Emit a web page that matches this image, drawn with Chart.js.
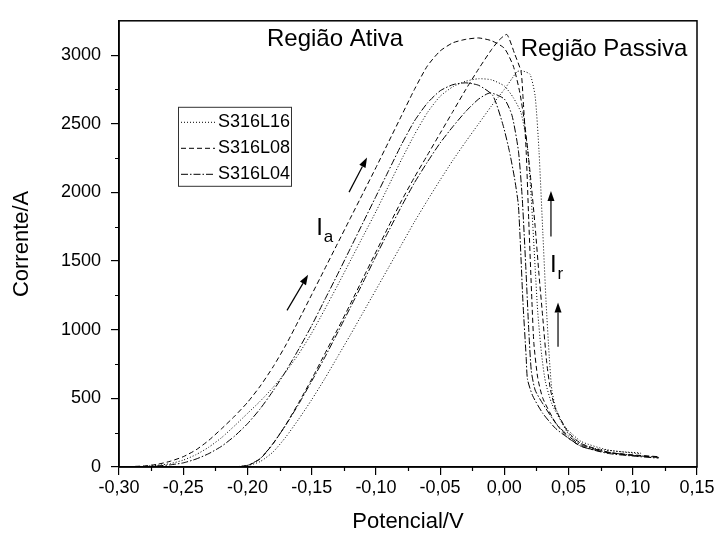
<!DOCTYPE html>
<html>
<head>
<meta charset="utf-8">
<script src="https://cdn.jsdelivr.net/npm/chart.js@4.4.1/dist/chart.umd.min.js"></script>
<style>
  html, body { margin: 0; padding: 0; background: #fff; }
</style>
</head>
<body>
<canvas id="chart" width="720" height="540"></canvas>
<script>
// axis ticks
const xTicks = [-0.30, -0.25, -0.20, -0.15, -0.10, -0.05, 0.00, 0.05, 0.10, 0.15];
const xMinor = [-0.275, -0.225, -0.175, -0.125, -0.075, -0.025, 0.025, 0.075, 0.125];
const yTicks = [0, 500, 1000, 1500, 2000, 2500, 3000];
const yMinor = [250, 750, 1250, 1750, 2250, 2750];

const seriesNames = ['S316L16', 'S316L08', 'S316L04'];

// S316L16 - forward (Ia) and reverse (Ir) scans
const l16FwdV = [-0.30, -0.28, -0.27, -0.26, -0.25, -0.24, -0.23, -0.22, -0.21, -0.20, -0.19, -0.18, -0.17, -0.16, -0.15, -0.14, -0.13, -0.12, -0.11, -0.10, -0.09, -0.08, -0.07, -0.06, -0.05, -0.04, -0.03, -0.02, -0.01, 0.0, 0.007, 0.013, 0.018, 0.021, 0.024, 0.026, 0.029, 0.032, 0.037, 0.045, 0.05, 0.06, 0.08, 0.10, 0.106];
const l16FwdI = [0, 5, 12, 25, 50, 90, 145, 215, 300, 390, 480, 580, 695, 825, 975, 1145, 1320, 1500, 1680, 1860, 2050, 2240, 2420, 2580, 2700, 2770, 2810, 2828, 2820, 2775, 2690, 2580, 2330, 1950, 1450, 1130, 820, 620, 460, 320, 265, 185, 125, 102, 97];
const l16RevV = [0.106, 0.09, 0.07, 0.06, 0.05, 0.045, 0.04, 0.037, 0.035, 0.0325, 0.03, 0.027, 0.024, 0.02, 0.014, 0.01, 0.006, 0.0, -0.01, -0.02, -0.03, -0.04, -0.05, -0.06, -0.07, -0.08, -0.09, -0.10, -0.11, -0.12, -0.13, -0.14, -0.15, -0.16, -0.17, -0.18, -0.19, -0.20, -0.21, -0.23];
const l16RevI = [102, 112, 135, 170, 240, 320, 430, 560, 800, 1200, 1700, 2300, 2700, 2860, 2885, 2880, 2830, 2750, 2630, 2500, 2370, 2235, 2090, 1940, 1785, 1620, 1455, 1290, 1125, 960, 800, 640, 490, 350, 220, 110, 40, 10, 2, 0];

// S316L08
const l08FwdV = [-0.30, -0.28, -0.27, -0.26, -0.25, -0.24, -0.23, -0.22, -0.21, -0.20, -0.19, -0.18, -0.17, -0.16, -0.15, -0.14, -0.13, -0.12, -0.11, -0.10, -0.09, -0.08, -0.07, -0.06, -0.05, -0.04, -0.03, -0.02, -0.01, 0.0, 0.007, 0.012, 0.016, 0.02, 0.024, 0.027, 0.03, 0.033, 0.036, 0.04, 0.05, 0.06, 0.08, 0.10, 0.12];
const l08FwdI = [0, 8, 20, 42, 75, 125, 195, 280, 370, 470, 590, 730, 890, 1070, 1255, 1440, 1625, 1810, 1995, 2180, 2370, 2560, 2750, 2920, 3030, 3090, 3115, 3125, 3105, 3050, 2920, 2730, 2490, 2150, 1750, 1400, 1080, 760, 560, 420, 250, 170, 110, 85, 72];
const l08RevV = [0.12, 0.10, 0.08, 0.06, 0.05, 0.04, 0.03, 0.026, 0.023, 0.0215, 0.019, 0.017, 0.0145, 0.013, 0.008, 0.002, -0.004, -0.01, -0.02, -0.03, -0.04, -0.05, -0.06, -0.07, -0.08, -0.09, -0.10, -0.11, -0.12, -0.13, -0.14, -0.15, -0.16, -0.17, -0.18, -0.19, -0.20, -0.21, -0.24];
const l08RevI = [75, 88, 105, 150, 210, 320, 500, 650, 900, 1200, 1800, 2300, 2700, 2880, 3010, 3150, 3110, 3040, 2900, 2750, 2590, 2430, 2270, 2110, 1940, 1755, 1565, 1375, 1185, 1000, 820, 640, 470, 310, 170, 60, 10, 2, 0];

// S316L04
const l04FwdV = [-0.30, -0.28, -0.27, -0.26, -0.25, -0.24, -0.23, -0.22, -0.21, -0.20, -0.19, -0.18, -0.17, -0.16, -0.15, -0.14, -0.13, -0.12, -0.11, -0.10, -0.09, -0.08, -0.07, -0.06, -0.05, -0.04, -0.03, -0.02, -0.009, -0.001, 0.004, 0.008, 0.011, 0.0145, 0.017, 0.018, 0.022, 0.03, 0.04, 0.05, 0.06, 0.08, 0.10, 0.12];
const l04FwdI = [0, 3, 8, 16, 30, 58, 98, 152, 225, 315, 425, 555, 700, 860, 1030, 1215, 1400, 1590, 1780, 1970, 2160, 2350, 2520, 2650, 2740, 2785, 2798, 2780, 2706, 2490, 2297, 2100, 1900, 1200, 800, 640, 520, 390, 280, 210, 150, 100, 80, 65];
const l04RevV = [0.12, 0.10, 0.08, 0.06, 0.05, 0.04, 0.03, 0.024, 0.021, 0.019, 0.017, 0.014, 0.011, 0.006, 0.0, -0.011, -0.02, -0.03, -0.04, -0.05, -0.06, -0.07, -0.08, -0.09, -0.10, -0.11, -0.12, -0.13, -0.14, -0.15, -0.16, -0.17, -0.18, -0.19, -0.20, -0.21, -0.24];
const l04RevI = [70, 85, 108, 160, 225, 320, 460, 560, 700, 1000, 1400, 1950, 2300, 2560, 2680, 2725, 2680, 2590, 2480, 2360, 2220, 2070, 1900, 1720, 1535, 1345, 1160, 975, 795, 625, 460, 308, 172, 62, 12, 2, 0];

// annotations, in data units (potential, current)
const arrows = [
  [-0.1692, 1141, -0.1528, 1400],
  [-0.1209, 2002, -0.1069, 2254],
  [0.0363, 1679, 0.0363, 2010],
  [0.0418, 876, 0.0418, 1199]
];

Chart.defaults.font.family = "'Liberation Sans', Arial, sans-serif";
Chart.defaults.color = '#000';

const fmt = v => v.toFixed(2).replace('.', ',');
const toPoints = (fv, fi, rv, ri) =>
  fv.map((v, i) => ({ x: v, y: fi[i] })).concat(rv.map((v, i) => ({ x: v, y: ri[i] })));

const dashes = [[1, 2], [5, 3], [7, 2, 1.5, 2]];

const datasets = [
  toPoints(l16FwdV, l16FwdI, l16RevV, l16RevI),
  toPoints(l08FwdV, l08FwdI, l08RevV, l08RevI),
  toPoints(l04FwdV, l04FwdI, l04RevV, l04RevI)
].map((pts, i) => ({
  label: seriesNames[i],
  data: pts,
  showLine: true,
  borderColor: '#000',
  borderWidth: 1,
  borderDash: dashes[i],
  pointRadius: 0,
  tension: 0.2,
  fill: false
}));

const drawArrow = (ctx, x1, y1, x2, y2) => {
  const ang = Math.atan2(y2 - y1, x2 - x1);
  const hl = 10, hw = 3.5;
  const bx = x2 - hl * Math.cos(ang), by = y2 - hl * Math.sin(ang);
  ctx.beginPath();
  ctx.moveTo(x1, y1);
  ctx.lineTo(bx, by);
  ctx.stroke();
  ctx.beginPath();
  ctx.moveTo(x2, y2);
  ctx.lineTo(bx + hw * Math.sin(ang), by - hw * Math.cos(ang));
  ctx.lineTo(bx - hw * Math.sin(ang), by + hw * Math.cos(ang));
  ctx.closePath();
  ctx.fill();
};

const decor = {
  id: 'decor',
  afterDraw(chart) {
    const { ctx, chartArea: a, scales: { x, y } } = chart;
    ctx.save();
    ctx.strokeStyle = '#000';
    ctx.fillStyle = '#000';
    ctx.setLineDash([]);

    // frame
    ctx.lineWidth = 1.5;
    ctx.strokeRect(a.left, a.top, a.right - a.left, a.bottom - a.top);

    // minor ticks
    ctx.lineWidth = 1.2;
    ctx.beginPath();
    xMinor.forEach(v => {
      const px = Math.round(x.getPixelForValue(v)) + 0.5;
      ctx.moveTo(px, a.bottom);
      ctx.lineTo(px, a.bottom + 4);
    });
    yMinor.forEach(v => {
      const py = Math.round(y.getPixelForValue(v)) + 0.5;
      ctx.moveTo(a.left, py);
      ctx.lineTo(a.left - 4, py);
    });
    ctx.stroke();

    // region labels
    ctx.font = "24px 'Liberation Sans', Arial, sans-serif";
    ctx.textAlign = 'center';
    ctx.textBaseline = 'middle';
    ctx.fillText('Região Ativa', x.getPixelForValue(-0.1318), y.getPixelForValue(3115));
    ctx.fillText('Região Passiva', x.getPixelForValue(0.0776), y.getPixelForValue(3043));

    // I_a and I_r
    const sub = (main, s, xv, yv) => {
      const px = x.getPixelForValue(xv), py = y.getPixelForValue(yv);
      ctx.textAlign = 'left';
      ctx.font = "24px 'Liberation Sans', Arial, sans-serif";
      ctx.fillText(main, px, py);
      const w = ctx.measureText(main).width;
      ctx.font = "17px 'Liberation Sans', Arial, sans-serif";
      ctx.fillText(s, px + w + 1, py + 9);
    };
    sub('I', 'a', -0.1465, 1737);
    sub('I', 'r', 0.0355, 1471);

    // arrows
    ctx.lineWidth = 1.2;
    arrows.forEach(([v1, i1, v2, i2]) => {
      drawArrow(ctx, x.getPixelForValue(v1), y.getPixelForValue(i1),
        x.getPixelForValue(v2), y.getPixelForValue(i2));
    });

    // legend box
    const bx = a.left + 59, by = a.top + 86, bw = 113, bh = 79;
    ctx.lineWidth = 1;
    ctx.strokeStyle = '#333';
    ctx.strokeRect(bx + 0.5, by + 0.5, bw, bh);
    ctx.strokeStyle = '#000';
    ctx.font = "18px 'Liberation Sans', Arial, sans-serif";
    ctx.textAlign = 'left';
    chart.data.datasets.forEach((ds, i) => {
      const ly = by + 15 + i * 26;
      ctx.setLineDash(ds.borderDash);
      ctx.beginPath();
      ctx.moveTo(bx + 3, ly + 0.5);
      ctx.lineTo(bx + 37, ly + 0.5);
      ctx.stroke();
      ctx.setLineDash([]);
      ctx.fillText(ds.label, bx + 40, ly);
    });
    ctx.restore();
  }
};

const axisGrid = {
  display: true,
  drawOnChartArea: false,
  drawTicks: true,
  tickLength: 8,
  color: '#000',
  lineWidth: 1.2
};

new Chart(document.getElementById('chart'), {
  type: 'scatter',
  data: { datasets },
  options: {
    responsive: false,
    animation: false,
    devicePixelRatio: 1,
    layout: { padding: { left: 0, right: 23, top: 15, bottom: 0 } },
    plugins: { legend: { display: false }, tooltip: { enabled: false } },
    scales: {
      x: {
        type: 'linear',
        min: -0.30,
        max: 0.15,
        afterBuildTicks: s => { s.ticks = xTicks.map(v => ({ value: v })); },
        afterFit: s => { s.height = 73; },
        ticks: { callback: v => fmt(v), font: { size: 18 }, padding: 2, maxRotation: 0 },
        grid: axisGrid,
        border: { color: '#000', width: 1.5 },
        title: { display: true, text: 'Potencial/V', font: { size: 22 }, padding: { top: 4, bottom: 5 } }
      },
      y: {
        min: 0,
        max: 3250,
        afterBuildTicks: s => { s.ticks = yTicks.map(v => ({ value: v })); },
        afterFit: s => { s.width = 119; },
        ticks: { callback: v => String(v), font: { size: 18 }, padding: 10 },
        grid: axisGrid,
        border: { color: '#000', width: 1.5 },
        title: { display: true, text: 'Corrente/A', font: { size: 22 }, padding: { top: 9, bottom: 4 } }
      }
    }
  },
  plugins: [decor]
});
</script>
</body>
</html>
